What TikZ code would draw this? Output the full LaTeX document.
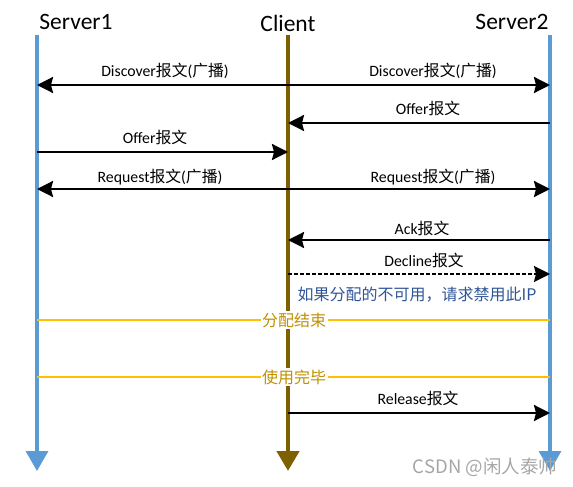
\documentclass[tikz,border=0pt]{standalone}
\usepackage{fontspec}
\setmainfont{Carlito}
\newfontfamily\cjk{Noto Sans CJK SC}
\usetikzlibrary{arrows.meta}
\definecolor{srvblue}{HTML}{5B9BD5}
\definecolor{clibrown}{HTML}{7F6000}
\definecolor{endyellow}{HTML}{FFC000}
\definecolor{endtext}{HTML}{BF9000}
\definecolor{noteblue}{HTML}{2F5597}
\tikzset{
  lifeline/.style={line width=3.5pt, -{Triangle[length=20pt,width=22pt]}},
  msg/.style={line width=2.5pt, -{Stealth[length=16pt,width=16pt,inset=2pt]}},
  bimsg/.style={line width=2.5pt, {Stealth[length=16pt,width=16pt,inset=2pt]}-{Stealth[length=16pt,width=16pt,inset=2pt]}},
  lbl/.style={font=\fontsize{15.8}{18}\selectfont, inner sep=1pt},
  head/.style={font=\fontsize{23.5}{26}\selectfont, inner sep=1pt},
  phase/.style={line width=2.5pt, endyellow},
  phaselbl/.style={font=\cjk\fontsize{16}{18}\selectfont, text=endtext, fill=white, inner sep=1.5pt}
}
\begin{document}
\begin{tikzpicture}[x=1pt, y=-1pt]
  \useasboundingbox (0,0) rectangle (573,487);

  % heads
  \node[head] (srv1) at (76,22) {Server1};
  \node[head] (cli) at (288,23) {Client};
  \node[head] (srv2) at (512,22) {Server2};

  % lifelines
  \coordinate (s1top) at (37,35);   \coordinate (s1bot) at (37,471);
  \coordinate (ctop) at (288,35);   \coordinate (cbot) at (288,471);
  \coordinate (s2top) at (550,35);  \coordinate (s2bot) at (550,471);
  \draw[lifeline, srvblue] (s1top) -- (s1bot);
  \draw[lifeline, clibrown, line width=4.5pt] (ctop) -- (cbot);
  \draw[lifeline, srvblue] (s2top) -- (s2bot);

  % Discover
  \coordinate (s1a) at (37,85); \coordinate (s2a) at (550,85);
  \draw[bimsg] (s1a) -- (s2a);
  \node[lbl] (disc1) at (165,71) {Discover{\cjk 报文}({\cjk 广播})};
  \node[lbl] (disc2) at (433,71) {Discover{\cjk 报文}({\cjk 广播})};

  % Offer
  \coordinate (s2b) at (550,123); \coordinate (cb) at (288,123);
  \draw[msg] (s2b) -- (cb);
  \node[lbl] (off2) at (428,108) {Offer{\cjk 报文}};
  \coordinate (s1c) at (37,152); \coordinate (cc) at (288,152);
  \draw[msg] (s1c) -- (cc);
  \node[lbl] (off1) at (155,137) {Offer{\cjk 报文}};

  % Request
  \coordinate (s1d) at (37,189); \coordinate (s2d) at (550,189);
  \draw[bimsg] (s1d) -- (s2d);
  \node[lbl] (req1) at (160,177) {Request{\cjk 报文}({\cjk 广播})};
  \node[lbl] (req2) at (433,177) {Request{\cjk 报文}({\cjk 广播})};

  % Ack
  \coordinate (s2e) at (550,240); \coordinate (ce) at (288,240);
  \draw[msg] (s2e) -- (ce);
  \node[lbl] (ack) at (422,228) {Ack{\cjk 报文}};

  % Decline
  \coordinate (cf) at (288,274); \coordinate (s2f) at (550,274);
  \draw[msg, line width=2.2pt, dash pattern=on 3.5pt off 2.5pt] (cf) -- (s2f);
  \node[lbl] (decl) at (424,260) {Decline{\cjk 报文}};
  \node[font=\cjk\fontsize{16}{18}\selectfont, text=noteblue, inner sep=1pt] (note) at (417,295) {如果分配的不可用，请求禁用此IP};

  % phases
  \coordinate (s1g) at (37,320); \coordinate (s2g) at (550,320);
  \draw[phase] (s1g) -- (s2g);
  \node[phaselbl] (alloc) at (294,320) {分配结束};
  \coordinate (s1h) at (37,377); \coordinate (s2h) at (550,377);
  \draw[phase] (s1h) -- (s2h);
  \node[phaselbl] (done) at (294,377) {使用完毕};

  % Release
  \coordinate (ci) at (288,413); \coordinate (s2i) at (550,413);
  \draw[msg] (ci) -- (s2i);
  \node[lbl] (rel) at (418,398) {Release{\cjk 报文}};

  % watermark
  \node[font=\cjk\fontsize{18.5}{20}\selectfont, text=black!35, inner sep=0pt] (mark) at (485,467) {CSDN @闲人泰帅};
\end{tikzpicture}
\end{document}
